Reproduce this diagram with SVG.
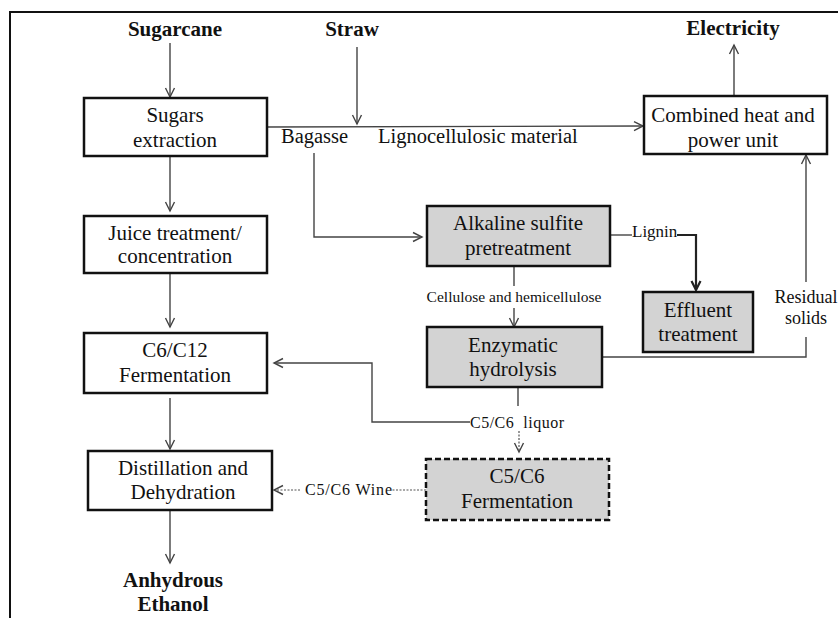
<svg xmlns="http://www.w3.org/2000/svg" width="838" height="618" viewBox="0 0 838 618" font-family="'Liberation Serif', 'Times New Roman', serif">
<style>
text{font-family:"Liberation Serif","Times New Roman",serif;fill:#111;}
.t{font-family:"Liberation Serif","Times New Roman",serif;font-size:21px;text-anchor:middle;}
.b{font-family:"Liberation Serif","Times New Roman",serif;font-size:21px;font-weight:bold;text-anchor:middle;}
.lbl{font-family:"Liberation Serif","Times New Roman",serif;font-size:20.5px;}
.sm{font-family:"Liberation Serif","Times New Roman",serif;font-size:16px;}
.box{fill:#fff;stroke:#111;stroke-width:2.5;}
.gbox{fill:#d3d3d3;stroke:#111;stroke-width:2.5;}
.dbox{fill:#d3d3d3;stroke:#111;stroke-width:2.5;stroke-dasharray:6 3;}
.c{fill:none;stroke:#444;stroke-width:1.4;}
.cd{fill:none;stroke:#555;stroke-width:1.2;stroke-dasharray:2 1.5;}
.ck{fill:none;stroke:#222;stroke-width:2.2;}
</style>
<defs>
<marker id="a" markerUnits="userSpaceOnUse" markerWidth="12" markerHeight="12" viewBox="0 0 12 12" refX="10" refY="6" orient="auto">
<path d="M1,1.5 L10,6 L1,10.5" fill="none" stroke="#444" stroke-width="1.4"/>
</marker>
<marker id="ak" markerUnits="userSpaceOnUse" markerWidth="12" markerHeight="12" viewBox="0 0 12 12" refX="10" refY="6" orient="auto">
<path d="M1,1.5 L10,6 L1,10.5" fill="none" stroke="#222" stroke-width="2.2"/>
</marker>
</defs>
<path d="M10,618 V12 H838" fill="none" stroke="#111" stroke-width="2"/>

<g id="connectors">
<line class="c" x1="170" y1="43" x2="170" y2="97" marker-end="url(#a)"/>
<line class="c" x1="357" y1="47" x2="357" y2="124" marker-end="url(#a)"/>
<line class="c" x1="267" y1="127" x2="643" y2="126" marker-end="url(#a)"/>
<polyline class="c" points="314,153 314,237 422,237" marker-end="url(#a)"/>
<line class="c" x1="734" y1="96" x2="734" y2="45" marker-end="url(#a)"/>
<line class="c" x1="610" y1="235" x2="632" y2="235"/>
<polyline class="ck" points="677,235 696,235 696,290" marker-end="url(#ak)"/>
<line class="c" x1="514" y1="266" x2="514" y2="286"/>
<line class="c" x1="514" y1="308" x2="514" y2="327" marker-end="url(#a)"/>
<line class="c" x1="806" y1="282" x2="806" y2="155" marker-end="url(#a)"/>
<polyline class="c" points="806,337 806,357 602,357"/>
<line class="c" x1="518" y1="387" x2="518" y2="406"/>
<polyline class="c" points="470,422 372,422 372,363 274,363" marker-end="url(#a)"/>
<line class="cd" x1="519" y1="431" x2="519" y2="452" marker-end="url(#a)"/>
<line class="cd" x1="426" y1="490" x2="392" y2="490"/>
<line class="cd" x1="300" y1="490" x2="274" y2="490" marker-end="url(#a)"/>
<line class="c" x1="170" y1="156" x2="170" y2="211" marker-end="url(#a)"/>
<line class="c" x1="170" y1="273" x2="170" y2="327" marker-end="url(#a)"/>
<line class="c" x1="170" y1="398" x2="170" y2="449" marker-end="url(#a)"/>
<line class="c" x1="170" y1="510" x2="170" y2="563" marker-end="url(#a)"/>
<text class="lbl" x="281" y="143">Bagasse</text>
<text class="lbl" x="378" y="143">Lignocellulosic material</text>
<text x="632" y="237" font-size="17">Lignin</text>
<text x="514" y="302" font-size="15.5" text-anchor="middle">Cellulose and hemicellulose</text>
<text x="806" y="303" font-size="18" text-anchor="middle">Residual</text>
<text x="806" y="324" font-size="18" text-anchor="middle">solids</text>
<text class="sm" x="470" y="428" textLength="94" xml:space="preserve">C5/C6  liquor</text>
<text class="sm" x="305" y="495" textLength="87" xml:space="preserve">C5/C6 Wine</text>
</g>

<g id="sugarcane"><text class="b" x="175" y="36">Sugarcane</text></g>
<g id="straw"><text class="b" x="352" y="36">Straw</text></g>
<g id="electricity"><text class="b" x="733" y="35">Electricity</text></g>
<g id="ethanol"><text class="b" x="173" y="587">Anhydrous</text><text class="b" x="173" y="611">Ethanol</text></g>

<g id="sugars-extraction"><rect class="box" x="84" y="98" width="183" height="58"/>
<text class="t" x="175" y="122">Sugars</text><text class="t" x="175" y="147">extraction</text></g>
<g id="juice"><rect class="box" x="84" y="216" width="183" height="57"/>
<text class="t" x="175" y="240">Juice treatment/</text><text class="t" x="175" y="263">concentration</text></g>
<g id="c6c12"><rect class="box" x="84" y="333" width="183" height="60"/>
<text class="t" x="175" y="357">C6/C12</text><text class="t" x="175" y="382">Fermentation</text></g>
<g id="distillation"><rect class="box" x="88" y="451" width="184" height="59"/>
<text class="t" x="183" y="475">Distillation and</text><text class="t" x="183" y="499">Dehydration</text></g>
<g id="chp"><rect class="box" x="644" y="96" width="183" height="58"/>
<text class="t" x="733" y="122">Combined heat and</text><text class="t" x="733" y="147">power unit</text></g>
<g id="alkaline"><rect class="gbox" x="427" y="206" width="183" height="60"/>
<text class="t" x="518" y="230">Alkaline sulfite</text><text class="t" x="518" y="255">pretreatment</text></g>
<g id="effluent"><rect class="gbox" x="643" y="292" width="110" height="60"/>
<text class="t" x="698" y="317">Effluent</text><text class="t" x="698" y="341">treatment</text></g>
<g id="enzymatic"><rect class="gbox" x="427" y="327" width="175" height="60"/>
<text class="t" x="513" y="352">Enzymatic</text><text class="t" x="513" y="376">hydrolysis</text></g>
<g id="c5c6-fermentation"><rect class="dbox" x="426" y="459" width="183" height="61"/>
<text class="t" x="517" y="483">C5/C6</text><text class="t" x="517" y="508">Fermentation</text></g>
</svg>
